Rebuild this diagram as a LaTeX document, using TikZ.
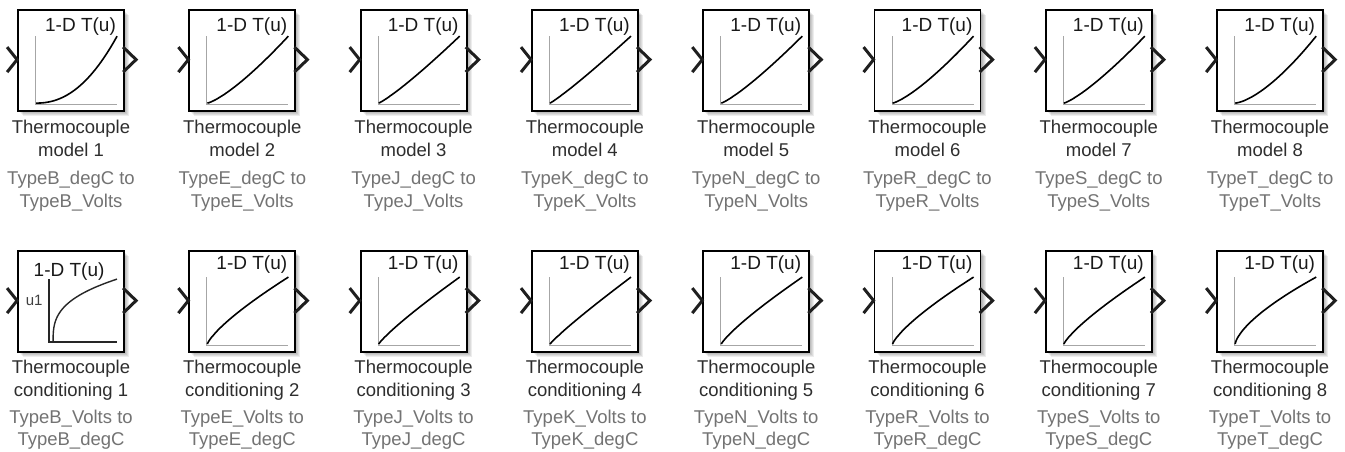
\documentclass[tikz,border=0pt]{standalone}
\usepackage{fontspec}
\setmainfont{Liberation Sans}
\begin{document}
\begin{tikzpicture}[x=1pt,y=-1pt,
  blkbox/.style={draw=black, line width=1.8pt, fill=white, minimum width=106pt, minimum height=101pt, inner sep=0pt},
  chev/.style={line width=3pt, draw=black!88, line join=miter},
  axisln/.style={draw=black!35, line width=0.9pt},
  axisdark/.style={draw=black!85, line width=1.6pt},
  curveln/.style={draw=black, line width=1.6pt, line join=round},
  titletext/.style={font=\fontsize{18.5}{20}\selectfont, text=black!82, anchor=base, inner sep=0pt},
  subtext/.style={font=\fontsize{18.5}{20}\selectfont, text=black!55, anchor=base, inner sep=0pt},
  tulabel/.style={font=\fontsize{19}{20}\selectfont, text=black!90, inner sep=0pt},
  ulabel/.style={font=\fontsize{15}{16}\selectfont, text=black!75, inner sep=0pt},
  shade/.style={fill=black, opacity=0.07}
]
\useasboundingbox (0,0) rectangle (1345,452);
\fill[white] (0,0) rectangle (1345,452);

\foreach \i/\T/\p in {1/B/2.2, 2/E/1.3, 3/J/1.15, 4/K/1.1, 5/N/1.2, 6/R/1.3, 7/S/1.25, 8/T/1.5} {
  \pgfmathsetmacro\cx{71+171.3*(\i-1)}
  % ---------- top row: model ----------
  \foreach \k in {1,2,3,4,5} {
    \fill[shade] (\cx-53+\k,10+\k) rectangle (\cx+53+\k,111+\k);
  }
  \node[blkbox] (m\i) at (\cx,60.5) {};
  \begin{scope}[shift={(m\i.north west)}]
    \draw[chev] (-10,38) -- (0,50.5) -- (-10,63);
    \draw[chev] (106,38) -- (119,50.5) -- (106,63);
    \draw[axisln] (18.5,27) -- (18.5,95) -- (100,95);
    \draw[curveln] (19,94) -- plot[domain=0.02:1, samples=40, variable=\t] ({19+81*\t},{94-67*(\t)^\p});
  \end{scope}
  \node[tulabel, anchor=east] (mtu\i) at ([shift={(99,17)}]m\i.north west) {1-D T(u)};
  \node[titletext] (ma\i) at (\cx,133) {Thermocouple};
  \node[titletext] (mb\i) at (\cx,157) {model \i};
  \node[subtext] (mc\i) at (\cx,184) {Type\T\_degC to};
  \node[subtext] (md\i) at (\cx,207) {Type\T\_Volts};

  % ---------- bottom row: conditioning ----------
  \foreach \k in {1,2,3,4,5} {
    \fill[shade] (\cx-53+\k,251+\k) rectangle (\cx+53+\k,352+\k);
  }
  \node[blkbox] (c\i) at (\cx,301.5) {};
  \begin{scope}[shift={(c\i.north west)}]
    \draw[chev] (-10,38) -- (0,50.5) -- (-10,63);
    \draw[chev] (106,38) -- (119,50.5) -- (106,63);
  \end{scope}
  \ifnum\i=1
    \begin{scope}[shift={(c\i.north west)}]
      \draw[axisdark] (32,29) -- (32,92) -- (100,92);
      \draw[curveln, line width=1.4pt, draw=black!85] (36,92) -- plot[domain=0.01:1, samples=60, variable=\t] ({36+64*(\t)^3},{92-63*\t});
    \end{scope}
    \node[tulabel] (ctu\i) at ([shift={(52,21)}]c\i.north west) {1-D T(u)};
    \node[ulabel] (cu\i) at ([shift={(17,50)}]c\i.north west) {u1};
  \else
    \begin{scope}[shift={(c\i.north west)}]
      \draw[axisln] (18.5,27) -- (18.5,95) -- (100,95);
      \draw[curveln] (19,94) -- plot[domain=0.01:1, samples=50, variable=\t] ({19+81*(\t)^\p},{94-67*\t});
    \end{scope}
    \node[tulabel, anchor=east] (ctu\i) at ([shift={(99,14.5)}]c\i.north west) {1-D T(u)};
  \fi
  \node[titletext] (ca\i) at (\cx,373) {Thermocouple};
  \node[titletext] (cb\i) at (\cx,396) {conditioning \i};
  \node[subtext] (cc\i) at (\cx,423) {Type\T\_Volts to};
  \node[subtext] (cd\i) at (\cx,445) {Type\T\_degC};
}
\end{tikzpicture}
\end{document}
